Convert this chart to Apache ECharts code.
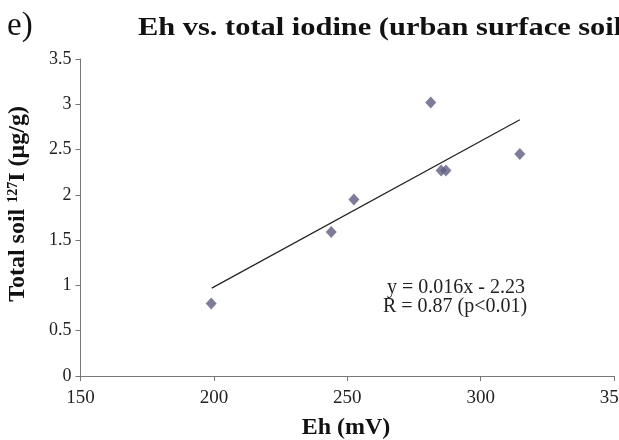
<!DOCTYPE html>
<html><head><meta charset="utf-8">
<script src="https://cdn.jsdelivr.net/npm/echarts@6/dist/echarts.min.js"></script>
<style>html,body{margin:0;padding:0;background:#fff}#c{width:619px;height:440px}</style>
</head><body><div id="c"></div>
<script>
var ehValues = [199, 244, 252.5, 281.3, 285.2, 287, 314.7];
var iodineValues = [0.8, 1.59, 1.95, 3.02, 2.27, 2.27, 2.45];
var trendX = [199.2, 314.7];
var trendY = [0.97, 2.83];
var equationText = 'y = 0.016x - 2.23';
var rText = 'R = 0.87 (p<0.01)';
var titleText = 'Eh vs. total iodine (urban surface soil)';

var serif = '"Liberation Serif","Times New Roman",serif';
var chart = echarts.init(document.getElementById('c'), null, {renderer: 'canvas'});
chart.setOption({
  animation: false,
  backgroundColor: '#fff',
  grid: {left: 80.5, right: 5, top: 59, bottom: 64, containLabel: false, outerBoundsMode: 'none'},
  xAxis: {
    type: 'value', min: 150, max: 350, interval: 50,
    axisLine: {lineStyle: {color: '#777', width: 1}},
    axisTick: {show: true, inside: false, length: 5, lineStyle: {color: '#777'}},
    splitLine: {show: false},
    axisLabel: {fontFamily: serif, fontSize: 19, color: '#222', margin: 13}
  },
  yAxis: {
    type: 'value', min: 0, max: 3.5, interval: 0.5,
    axisLine: {show: true, lineStyle: {color: '#777', width: 1}},
    axisTick: {show: true, inside: false, length: 5, lineStyle: {color: '#777'}},
    splitLine: {show: false},
    axisLabel: {fontFamily: serif, fontSize: 18, color: '#222', margin: 9}
  },
  series: [
    {
      type: 'line',
      data: trendX.map(function (x, i) { return [x, trendY[i]]; }),
      symbol: 'none',
      lineStyle: {color: '#222', width: 1.2},
      z: 2
    },
    {
      type: 'scatter',
      data: ehValues.map(function (x, i) { return [x, iodineValues[i]]; }),
      symbol: 'diamond',
      symbolSize: [11, 12],
      itemStyle: {color: '#5c5c82'},
      z: 3
    }
  ],
  graphic: [
    {type: 'text', x: 7, y: 26, style: {text: 'e)', font: '33px ' + serif, fill: '#111', verticalAlign: 'middle'}},
    {type: 'text', x: 138, y: 28, scaleX: 1.17, style: {text: titleText, font: 'bold 26px ' + serif, fill: '#111', verticalAlign: 'middle'}},
    {type: 'text', x: 456, y: 288, style: {text: equationText, font: '20px ' + serif, fill: '#222', align: 'center', verticalAlign: 'middle'}},
    {type: 'text', x: 455, y: 307, style: {text: rText, font: '20px ' + serif, fill: '#222', align: 'center', verticalAlign: 'middle'}},
    {type: 'text', x: 346, y: 428, style: {text: 'Eh (mV)', font: 'bold 24px ' + serif, fill: '#111', align: 'center', verticalAlign: 'middle'}},
    {
      type: 'text', x: 18, y: 204, rotation: Math.PI / 2,
      style: {
        text: '{b|Total soil }{s|127}{b|I (μg/g)}',
        align: 'center', verticalAlign: 'middle',
        rich: {
          b: {font: 'bold 24px ' + serif, fill: '#111', verticalAlign: 'bottom'},
          s: {font: 'bold 14px ' + serif, fill: '#111', verticalAlign: 'top', padding: [0, 0, 10, 0]}
        }
      }
    }
  ]
});
</script></body></html>
